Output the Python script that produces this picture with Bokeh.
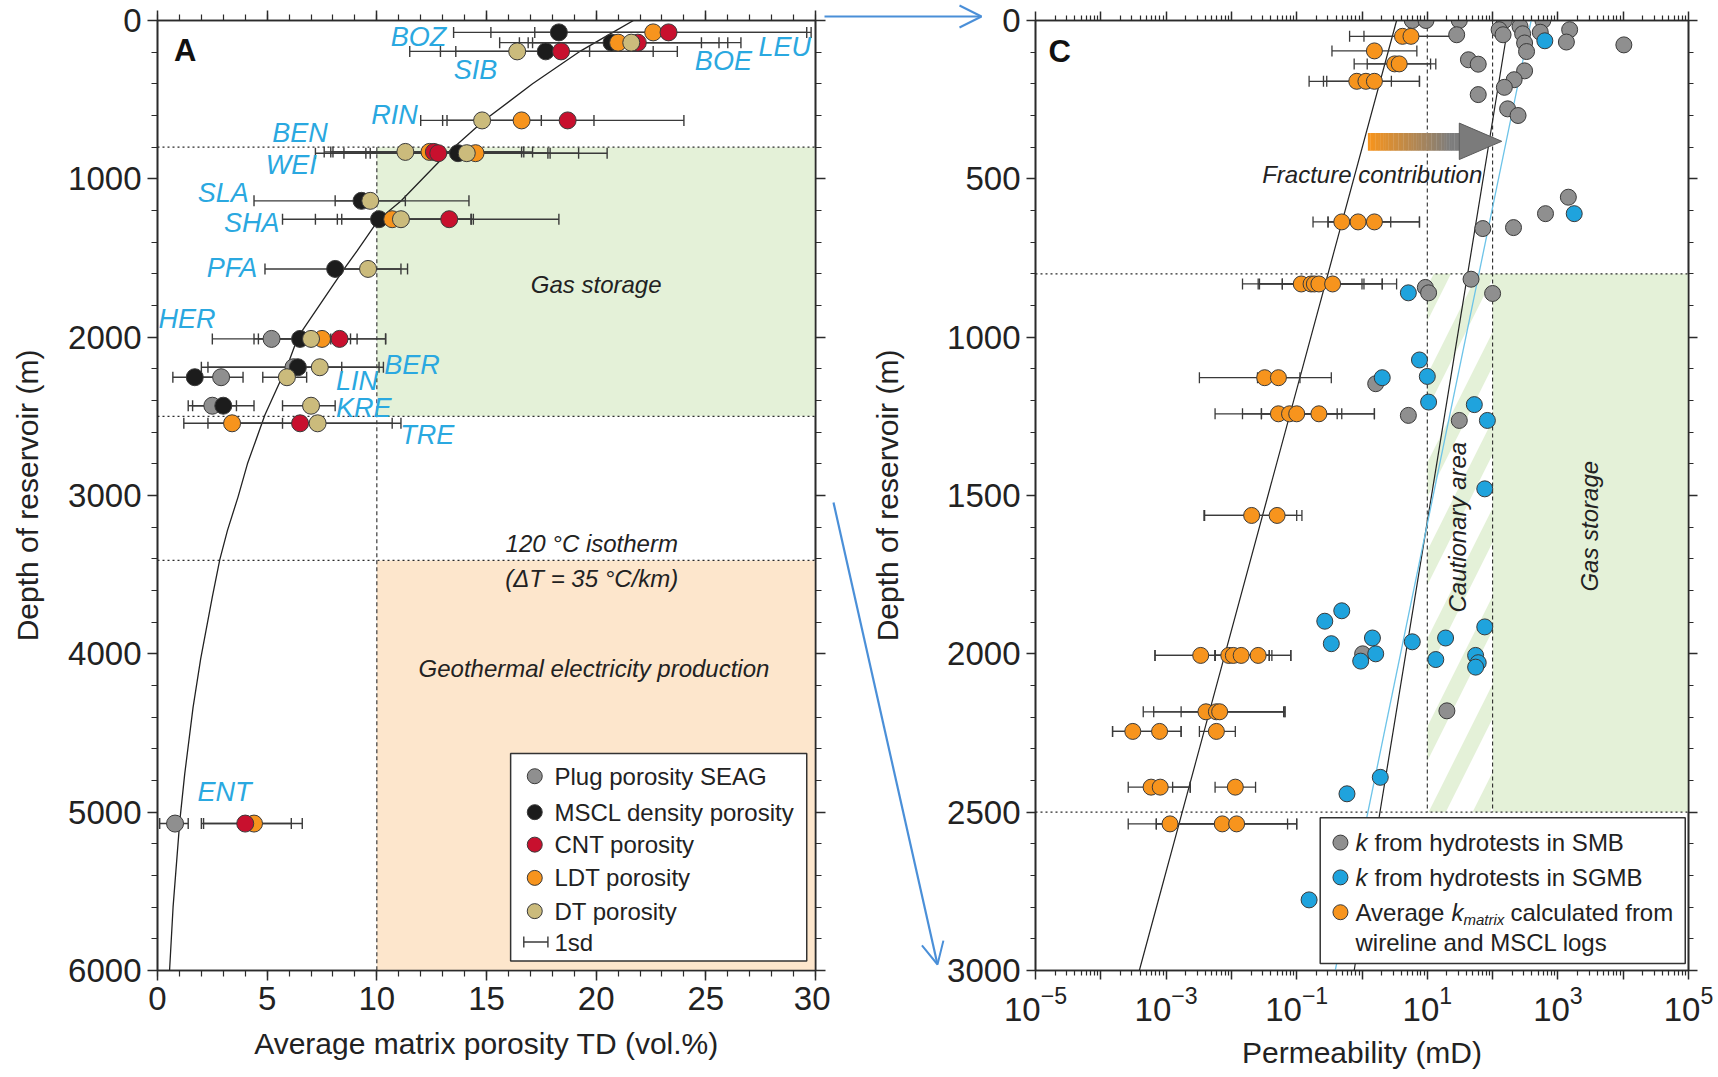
import numpy as np
from bokeh.plotting import figure
from bokeh.models import (Range1d, FixedTicker, LinearAxis, LogAxis, Arrow, OpenHead,
                          LogTickFormatter, CustomLabelingPolicy, GridBox)
from bokeh.core.properties import value
from bokeh.embed import file_html
from bokeh.resources import INLINE

FONT = "Liberation Sans"
INK = "#2b2b2b"
C_GREY = "#8f8f8f"; C_BLACK = "#1c1c1c"; C_RED = "#c8102e"; C_ORANGE = "#f7941d"
C_TAN = "#cbbb7c"; C_BLUE = "#1fa3dd"; C_SITE = "#2aa8e0"; C_GREEN = "#e4f1d8"
C_PEACH = "#fde6cc"; C_LINK = "#4a8fd8"; C_CYAN = "#6cc3e8"

# ---------------- Panel A : average matrix porosity TD (vol.%) vs depth (m)
plug_depth = [2011, 2190, 2253, 2433, 5072]
plug_por   = [5.2, 6.2, 2.9, 2.5, 0.8]
plug_lo    = [2.5, 2.3, 1.9, 1.4, 0.1]
plug_hi    = [7.9, 10.1, 3.9, 3.6, 1.4]

mscl_depth = [75, 140, 195, 838, 1139, 1255, 1569, 2011, 2190, 2253, 2433]
mscl_por   = [18.3, 20.7, 17.7, 13.7, 9.3, 10.1, 8.1, 6.5, 6.4, 1.7, 3.0]
mscl_lo    = [13.5, 16.5, 12.9, 9.5, 4.4, 5.7, 4.9, 4.4, 2.0, 0.7, 1.6]
mscl_hi    = [23.1, 24.8, 22.6, 17.9, 14.2, 14.4, 11.1, 8.8, 10.3, 2.7, 4.4]

cnt_depth = [75, 140, 195, 631, 830, 838, 1255, 2011, 2544, 5072]
cnt_por   = [23.3, 21.9, 18.4, 18.7, 12.6, 12.8, 13.3, 8.3, 6.5, 4.0]
cnt_lo    = [17.2, 16.9, 13.6, 12.0, 8.0, 7.2, 8.4, 6.2, 2.3, 2.0]
cnt_hi    = [29.6, 26.6, 23.7, 24.0, 16.7, 17.8, 18.3, 10.4, 10.7, 6.1]

ldt_depth = [75, 140, 631, 830, 838, 1255, 2011, 2544, 5072]
ldt_por   = [22.6, 21.0, 16.6, 12.4, 14.5, 10.7, 7.5, 3.4, 4.4]
ldt_lo    = [15.2, 15.6, 13.2, 7.6, 8.5, 7.2, 4.6, 1.2, 2.1]
ldt_hi    = [29.8, 26.0, 19.9, 17.1, 20.5, 14.3, 10.4, 5.7, 6.6]

dt_depth = [140, 195, 631, 830, 838, 1139, 1255, 1569, 2011, 2190, 2253, 2433, 2544]
dt_por   = [21.6, 16.4, 14.8, 11.3, 14.1, 9.7, 11.1, 9.6, 7.0, 7.4, 5.9, 7.0, 7.3]
dt_lo    = [17.1, 11.5, 13.0, 7.9, 9.7, 8.1, 8.2, 8.0, 5.0, 6.4, 4.8, 5.7, 3.5]
dt_hi    = [25.6, 19.7, 17.5, 16.6, 19.2, 11.3, 14.3, 11.4, 9.1, 8.4, 6.8, 8.1, 11.1]

# porosity-depth trend curve
trend_depth = [0, 80, 200, 400, 630, 840, 1140, 1255, 1455, 1570, 2000, 2170, 2490,
               2800, 3010, 3220, 3405, 3640, 4030, 4340, 4760, 5050, 5600, 6000]
trend_por   = [21.7, 20.7, 19.2, 17.1, 14.9, 13.2, 11.1, 10.1, 9.1, 8.5, 6.4, 5.95, 4.9,
               4.1, 3.67, 3.19, 2.84, 2.5, 1.97, 1.62, 1.24, 1.02, 0.71, 0.55]

site_names = ["BOZ", "SIB", "BOE", "LEU", "RIN", "BEN", "WEI", "SLA", "SHA", "PFA",
              "HER", "BER", "LIN", "KRE", "TRE", "ENT"]
site_lab_x = [11.9, 14.5, 25.8, 28.6, 10.8, 6.5, 6.1, 3.0, 4.3, 3.4, 1.35, 11.6,
              9.1, 9.4, 12.3, 3.05]
site_lab_y = [105, 315, 258, 170, 597, 708, 915, 1090, 1278, 1560, 1885, 2178,
              2275, 2445, 2616, 4875]

por_cut = 10
gas_zone = [800, 2500]
isotherm_depth = 3410
geo_zone = [3410, 6000]

legA_names = ["Plug porosity SEAG", "MSCL density porosity", "CNT porosity",
              "LDT porosity", "DT porosity"]
legA_depth = [4773, 5000, 5205, 5415, 5625, 5820]

# ---------------- Panel C : permeability (mD, log10 values) vs depth (m)
smb_logk  = [0.77, 0.98, 1.49, 2.18, 2.77, 1.45, 2.10, 2.16, 2.42, 2.46, 2.49, 2.52,
             2.73, 3.18, 3.13, 4.01, 1.63, 1.78, 2.49, 2.33, 2.18, 1.78, 2.23, 2.39,
             3.16, 2.81, 2.32, 1.85, 1.67, 2.00, 0.97, 1.02, 0.21, 0.71, 1.49, 0.01, 1.30]
smb_depth = [0, 0, 0, 0, 0, 45, 29, 45, 19, 42, 71, 98,
             37, 29, 68, 77, 124, 138, 159, 187, 211, 234, 279, 300,
             558, 610, 654, 657, 817, 862, 843, 860, 1147, 1247, 1263, 2000, 2180]

sgmb_logk  = [2.80, 3.25, 0.71, 0.88, 0.31, 1.00, 1.02, 1.72, 1.92, 1.88,
              -0.31, -0.57, -0.47, 0.16, 0.77, 1.28, 1.88, 0.21, -0.02, 1.13,
              1.74, 1.78, 1.74, 0.28, -0.23, -0.81]
sgmb_depth = [64, 610, 860, 1072, 1128, 1124, 1205, 1213, 1263, 1479,
              1864, 1897, 1968, 1950, 1962, 1950, 1915, 2000, 2023, 2018,
              2005, 2028, 2042, 2390, 2442, 2777]

kmat_depth = [50, 50, 96, 137, 137, 192, 192, 192, 636, 636, 636,
              832, 832, 832, 832, 832, 1128, 1128, 1242, 1242, 1242, 1242,
              1563, 1563, 2005, 2005, 2005, 2005, 2005, 2183, 2183, 2183,
              2245, 2245, 2245, 2421, 2421, 2421, 2537, 2537, 2537]
kmat_logk  = [0.62, 0.75, 0.19, 0.50, 0.57, -0.08, 0.06, 0.19, -0.31, -0.06, 0.19,
              -0.93, -0.78, -0.73, -0.66, -0.45, -1.49, -1.28, -1.28, -1.11, -1.00, -0.66,
              -1.69, -1.30, -2.47, -2.04, -1.97, -1.85, -1.59, -2.39, -2.23, -2.18,
              -3.51, -3.10, -2.23, -3.23, -3.09, -1.94, -2.94, -2.14, -1.92]
kmat_lo    = [-0.19, 0.03, -0.46, -0.12, 0.08, -0.81, -0.59, -0.54, -0.75, -0.52, -0.52,
              -1.83, -1.59, -1.57, -1.22, -1.22, -2.49, -1.60, -2.25, -1.83, -1.54, -1.54,
              -2.42, -2.41, -3.17, -3.17, -2.25, -2.25, -2.25, -3.35, -3.19, -2.77,
              -3.82, -3.82, -2.49, -3.58, -2.90, -2.25, -3.58, -3.15, -3.15]
kmat_hi    = [1.40, 1.45, 0.84, 1.05, 1.13, 0.45, 0.88, 0.88, 0.44, 0.88, 0.88,
              0.00, 0.03, 0.31, 0.53, 0.31, -0.47, -0.95, -0.38, -0.31, 0.19, 0.19,
              -1.00, -0.92, -1.42, -1.38, -1.09, -1.42, -1.09, -1.18, -1.18, -1.20,
              -2.77, -2.77, -1.94, -2.63, -2.63, -1.63, -1.14, -1.00, -1.00]

trend_c_depth = [0, 3000]
trend_matrix_logk = [0.53, -3.41]
trend_smb_logk = [2.25, -0.12]
trend_sgmb_logk = [2.59, -0.41]

perm_cut = [10, 100]
perm_max = 1e5

frac_body_logk = [0.09, 1.49]
frac_body_depth = [355, 411]
frac_head_logk = [1.49, 2.14]
frac_head_depth = [324, 439]

# connector arrows between the panels, page pixel coordinates
link_start_x = [824, 833]
link_start_y = [16, 502]
link_end_x = [981, 937]
link_end_y = [16, 964]


def hide_labels():
    return CustomLabelingPolicy(
        code="for (const i of Array.from(indices)) { indices.unset(i) } return indices")


def style_axis(ax, labels=True, tick_out=10, minor_out=6):
    ax.axis_line_color = INK
    ax.axis_line_width = 1.6
    ax.major_tick_line_color = INK
    ax.major_tick_line_width = 1.5
    ax.minor_tick_line_color = INK
    ax.minor_tick_line_width = 1.2
    ax.major_tick_in = 0
    ax.major_tick_out = tick_out
    ax.minor_tick_in = 0
    ax.minor_tick_out = minor_out
    ax.major_label_text_font = FONT
    ax.major_label_text_font_size = "33px" if labels else "1px"
    ax.major_label_text_color = "#222222"
    ax.major_label_standoff = 6 if labels else 0
    ax.axis_label_text_font = FONT
    ax.axis_label_text_font_size = "30px"
    ax.axis_label_text_font_style = "normal"
    ax.axis_label_text_color = "#222222"
    if not labels:
        ax.major_label_policy = hide_labels()


def errbars(p, lo, hi, y, width=1.4):
    p.segment(x0=lo, y0=y, x1=hi, y1=y, line_color="#3a3a3a", line_width=width)
    p.scatter(x=list(lo) + list(hi), y=list(y) + list(y), marker="dash",
              angle=np.pi / 2, size=11, line_color="#3a3a3a", line_width=width)


def dots(p, x, y, color, size=17):
    p.scatter(x=x, y=y, marker="circle", size=size, fill_color=color,
              line_color="#3a3a3a", line_width=1)


def txt(p, x, y, s, size="24px", style="italic", color="#222222", align="center",
        angle=0.0, xo=0, yo=0, baseline="middle"):
    p.text(x=x, y=y, text=s, text_font=value(FONT), text_font_size=value(size),
           text_font_style=style, text_color=color, text_align=align,
           text_baseline=baseline, angle=angle, x_offset=xo, y_offset=yo)


# =========================== Panel A
pA = figure(width=830, height=1077, x_range=Range1d(0, 30), y_range=Range1d(6000, 0),
            output_backend="svg", toolbar_location=None,
            min_border_left=157, min_border_right=15, min_border_top=20,
            min_border_bottom=107)
pA.xgrid.visible = False
pA.ygrid.visible = False
pA.outline_line_color = INK
pA.outline_line_width = 1.6

xt = FixedTicker(ticks=list(range(0, 31, 5)), minor_ticks=list(range(0, 31)))
yt = FixedTicker(ticks=list(range(0, 6001, 1000)), minor_ticks=list(range(0, 6001, 200)))
pA.xaxis[0].ticker = xt
pA.yaxis[0].ticker = yt
pA.xaxis[0].axis_label = "Average matrix porosity TD (vol.%)"
pA.yaxis[0].axis_label = "Depth of reservoir (m)"
style_axis(pA.xaxis[0])
style_axis(pA.yaxis[0])
pA.xaxis[0].axis_label_standoff = 14
pA.yaxis[0].axis_label_standoff = 21
topA = LinearAxis(ticker=xt)
rightA = LinearAxis(ticker=yt)
style_axis(topA, labels=False)
style_axis(rightA, labels=False)
pA.add_layout(topA, "above")
pA.add_layout(rightA, "right")

pA.quad(left=[por_cut], right=[30], top=[gas_zone[0]], bottom=[gas_zone[1]],
        fill_color=C_GREEN, line_color=None)
pA.quad(left=[por_cut], right=[30], top=[geo_zone[0]], bottom=[geo_zone[1]],
        fill_color=C_PEACH, line_color=None)
hl = [gas_zone[0], gas_zone[1], isotherm_depth]
pA.segment(x0=[0] * 3, x1=[30] * 3, y0=hl, y1=hl, line_color=INK, line_width=1.2,
           line_dash="2 3")
pA.segment(x0=[por_cut], x1=[por_cut], y0=[gas_zone[0]], y1=[6000], line_color=INK,
           line_width=1.1, line_dash="4 3")
pA.line(trend_por, trend_depth, line_color="#222222", line_width=1.3)

for lo, hi, d in [(plug_lo, plug_hi, plug_depth), (mscl_lo, mscl_hi, mscl_depth),
                  (cnt_lo, cnt_hi, cnt_depth), (ldt_lo, ldt_hi, ldt_depth),
                  (dt_lo, dt_hi, dt_depth)]:
    errbars(pA, lo, hi, d)
dots(pA, plug_por, plug_depth, C_GREY)
dots(pA, mscl_por, mscl_depth, C_BLACK)
dots(pA, ldt_por, ldt_depth, C_ORANGE)
dots(pA, cnt_por, cnt_depth, C_RED)
dots(pA, dt_por, dt_depth, C_TAN)

txt(pA, site_lab_x, site_lab_y, site_names, size="27px", color=C_SITE)
txt(pA, [1.26], [190], ["A"], size="31px", style="bold", color="#111111")
txt(pA, [20.0], [1670], ["Gas storage"])
txt(pA, [19.8], [3300], ["120 °C isotherm"])
txt(pA, [19.8], [3526], ["(ΔT = 35 °C/km)"])
txt(pA, [19.9], [4095], ["Geothermal electricity production"])

# legend A
pA.quad(left=[16.1], right=[29.6], top=[4630], bottom=[5940], fill_color="white",
        line_color="#333333", line_width=1.5)
leg_cols = [C_GREY, C_BLACK, C_RED, C_ORANGE, C_TAN]
dots(pA, [17.2] * 5, legA_depth[:5], leg_cols, size=15)
txt(pA, [18.1] * 5, legA_depth[:5], legA_names, style="normal", align="left")
errbars(pA, [16.7], [17.8], [legA_depth[5]])
txt(pA, [18.1], [legA_depth[5]], ["1sd"], style="normal", align="left")

# =========================== Panel C
pC = figure(width=888, height=1077, x_axis_type="log", x_range=Range1d(1e-5, 1e5),
            y_range=Range1d(3000, 0), output_backend="svg", toolbar_location=None,
            min_border_left=205, min_border_right=30, min_border_top=20,
            min_border_bottom=106)
pC.xgrid.visible = False
pC.ygrid.visible = False
pC.outline_line_color = INK
pC.outline_line_width = 1.6

decades = [10.0 ** e for e in range(-5, 6)]
minors = [k * 10.0 ** e for e in range(-5, 5) for k in range(2, 10)]
cxt = FixedTicker(ticks=decades, minor_ticks=minors)
cyt = FixedTicker(ticks=list(range(0, 3001, 500)), minor_ticks=list(range(0, 3001, 100)))
pC.xaxis[0].ticker = cxt
pC.yaxis[0].ticker = cyt
pC.xaxis[0].formatter = LogTickFormatter()
pC.xaxis[0].axis_label = "Permeability (mD)"
pC.yaxis[0].axis_label = "Depth of reservoir (m)"
style_axis(pC.xaxis[0], tick_out=9, minor_out=5)
style_axis(pC.yaxis[0], tick_out=9, minor_out=5)
pC.xaxis[0].major_label_policy = CustomLabelingPolicy(
    code="for (const i of Array.from(indices)) { if (i % 2 == 1) { indices.unset(i) } } return indices")
pC.xaxis[0].axis_label_standoff = 12
pC.yaxis[0].axis_label_standoff = 40
topC = LogAxis(ticker=cxt)
rightC = LinearAxis(ticker=cyt)
style_axis(topC, labels=False, tick_out=9, minor_out=5)
style_axis(rightC, labels=False, tick_out=9, minor_out=5)
pC.add_layout(topC, "above")
pC.add_layout(rightC, "right")

pC.quad(left=[perm_cut[1]], right=[perm_max], top=[gas_zone[0]], bottom=[gas_zone[1]],
        fill_color=C_GREEN, line_color=None)
pC.quad(left=[perm_cut[0]], right=[perm_cut[1]], top=[gas_zone[0]], bottom=[gas_zone[1]],
        fill_color=C_GREEN, line_color=None, hatch_pattern="/", hatch_color="white",
        hatch_scale=88, hatch_weight=24)
pC.segment(x0=[1e-5] * 2, x1=[perm_max] * 2, y0=gas_zone, y1=gas_zone, line_color=INK,
           line_width=1.2, line_dash="2 3")
pC.segment(x0=perm_cut, x1=perm_cut, y0=[0, 0], y1=[gas_zone[1]] * 2, line_color=INK,
           line_width=1.1, line_dash="4 3")

pC.line([10 ** v for v in trend_matrix_logk], trend_c_depth, line_color="#222222", line_width=1.2)
pC.line([10 ** v for v in trend_smb_logk], trend_c_depth, line_color="#222222", line_width=1.2)
pC.line([10 ** v for v in trend_sgmb_logk], trend_c_depth, line_color=C_CYAN, line_width=1.3)

# fracture contribution arrow (orange -> grey)
N = 36
edges = np.linspace(frac_body_logk[0], frac_body_logk[1], N + 1)
t = np.linspace(0, 1, N)
c0 = np.array([247, 148, 29]); c1 = np.array([125, 125, 125])
cols = ["#%02x%02x%02x" % tuple(int(round(v)) for v in (c0 + (c1 - c0) * min(1.0, ti * 1.1)))
        for ti in t]
pC.quad(left=10 ** edges[:-1], right=10 ** edges[1:] * 1.01, top=[frac_body_depth[0]] * N,
        bottom=[frac_body_depth[1]] * N, fill_color=cols, line_color=None)
pC.patch([10 ** frac_head_logk[0], 10 ** frac_head_logk[1], 10 ** frac_head_logk[0]],
         [frac_head_depth[0], sum(frac_head_depth) / 2, frac_head_depth[1]],
         fill_color="#7b7b7b", line_color="#5a5a5a", line_width=1)

errbars(pC, [10 ** v for v in kmat_lo], [10 ** v for v in kmat_hi], kmat_depth, width=1.3)
dots(pC, [10 ** v for v in smb_logk], smb_depth, C_GREY, size=16)
dots(pC, [10 ** v for v in sgmb_logk], sgmb_depth, C_BLUE, size=16)
dots(pC, [10 ** v for v in kmat_logk], kmat_depth, C_ORANGE, size=16)

txt(pC, [10 ** -4.63], [99], ["C"], size="31px", style="bold", color="#111111")
txt(pC, [10 ** 0.156], [486], ["Fracture contribution"])
txt(pC, [10 ** 1.47], [1600], ["Cautionary area"], angle=np.pi / 2)
txt(pC, [10 ** 3.49], [1597], ["Gas storage"], angle=np.pi / 2)

# legend C
pC.quad(left=[10 ** -0.64], right=[10 ** 4.95], top=[2518], bottom=[2978],
        fill_color="white", line_color="#333333", line_width=1.5)
legC_depth = [2596, 2706, 2816, 2910]
dots(pC, [10 ** -0.33] * 3, legC_depth[:3], [C_GREY, C_BLUE, C_ORANGE], size=15)
lx = 10 ** -0.10
txt(pC, [lx, lx], legC_depth[:2], ["k", "k"], align="left")
txt(pC, [lx, lx], legC_depth[:2], ["from hydrotests in SMB", "from hydrotests in SGMB"],
    style="normal", align="left", xo=19)
txt(pC, [lx], [legC_depth[2]], ["Average"], style="normal", align="left")
txt(pC, [lx], [legC_depth[2]], ["k"], align="left", xo=96)
txt(pC, [lx], [legC_depth[2]], ["matrix"], size="15px", align="left", xo=108, yo=7)
txt(pC, [lx], [legC_depth[2]], ["calculated from"], style="normal", align="left", xo=155)
txt(pC, [lx], [legC_depth[3]], ["wireline and MSCL logs"], style="normal", align="left")

# =========================== transparent overlay carrying the connector arrows
pO = figure(width=1718, height=1077, x_range=Range1d(0, 1718), y_range=Range1d(1077, 0),
            output_backend="svg", toolbar_location=None, x_axis_location=None,
            y_axis_location=None, min_border=0, background_fill_color=None,
            border_fill_color=None, outline_line_color=None)
pO.frame_align = False
pO.xgrid.visible = False
pO.ygrid.visible = False
for x0, y0, x1, y1 in zip(link_start_x, link_start_y, link_end_x, link_end_y):
    pO.add_layout(Arrow(end=OpenHead(size=22, line_color=C_LINK, line_width=2),
                        x_start=x0, y_start=y0, x_end=x1, y_end=y1,
                        line_color=C_LINK, line_width=2.2))

layout = GridBox(children=[(pA, 0, 0), (pC, 0, 1), (pO, 0, 0, 1, 2)])
open("out.html", "w").write(file_html(layout, INLINE))
